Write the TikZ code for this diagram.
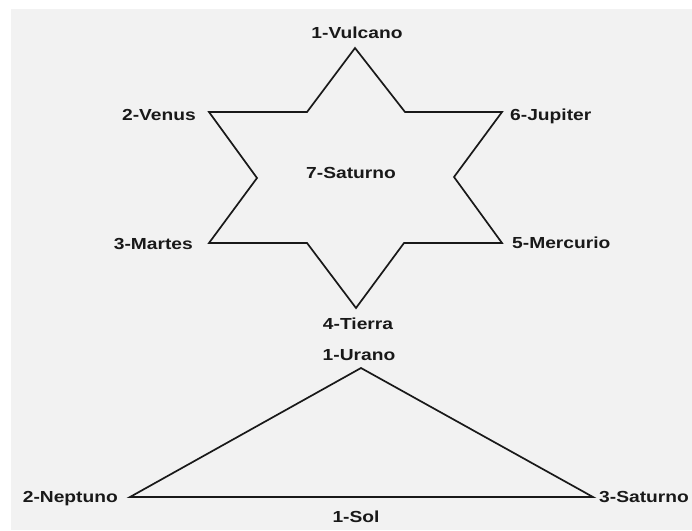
\documentclass[tikz,border=0pt]{standalone}
\usepackage{fontspec}
\setmainfont{Liberation Sans}[FakeStretch=1.2]
\definecolor{bggray}{HTML}{F2F2F2}
\begin{document}
\begin{tikzpicture}[x=1pt,y=-1pt,
  lbl/.style={font=\fontsize{16}{19}\selectfont\bfseries, inner sep=0pt, text height=0.72em, text depth=0pt, text=black!90},
  edge/.style={draw=black!90, line width=1.7pt, line join=miter}]
\useasboundingbox (0,0) rectangle (692,530);
\fill[white] (0,0) rectangle (692,530);
\fill[bggray] (11,9) rectangle (692,530);
% star vertices
\coordinate (top) at (355,48);
\coordinate (ur) at (405,112);
\coordinate (jup) at (502,112);
\coordinate (ri) at (454,177);
\coordinate (mer) at (502,243);
\coordinate (lr) at (404,243);
\coordinate (bot) at (356,308);
\coordinate (ll) at (307,243);
\coordinate (mar) at (209,243);
\coordinate (li) at (257,178);
\coordinate (ven) at (209,112);
\coordinate (ul) at (307,112);
\draw[edge] (top) -- (ur) -- (jup) -- (ri) -- (mer) -- (lr) -- (bot) -- (ll) -- (mar) -- (li) -- (ven) -- (ul) -- cycle;
% triangle vertices
\coordinate (tA) at (361,368);
\coordinate (tL) at (130,497);
\coordinate (tR) at (593,497);
\draw[edge] (tA) -- (tL) -- (tR) -- cycle;
% labels
\node[lbl] (vulcano) at (357,35) {1-Vulcano};
\node[lbl, anchor=east] (venus) at (196,117) {2-Venus};
\node[lbl, anchor=west] (jupiter) at (510,117) {6-Jupiter};
\node[lbl, anchor=east] (martes) at (193,246) {3-Martes};
\node[lbl, anchor=west] (mercurio) at (512,245) {5-Mercurio};
\node[lbl] (saturno7) at (351,175) {7-Saturno};
\node[lbl] (tierra) at (358,326) {4-Tierra};
\node[lbl] (urano) at (359,357) {1-Urano};
\node[lbl, anchor=east] (neptuno) at (118,499) {2-Neptuno};
\node[lbl, anchor=west] (saturno3) at (599,499) {3-Saturno};
\node[lbl] (sol) at (356,519) {1-Sol};
\end{tikzpicture}
\end{document}
